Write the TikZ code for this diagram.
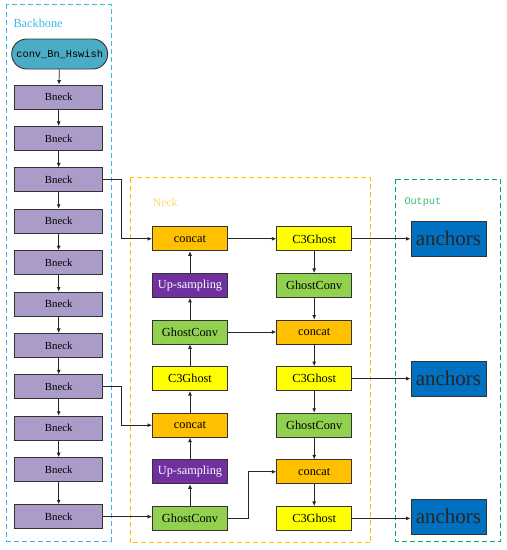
\documentclass[tikz,border=0pt]{standalone}
\usepackage{fontspec}
\setmainfont{Liberation Serif}
\setmonofont{Liberation Mono}
\usetikzlibrary{arrows.meta}

\definecolor{bbblue}{RGB}{60,185,235}
\definecolor{neckor}{RGB}{255,192,0}
\definecolor{necklab}{RGB}{255,214,110}
\definecolor{outgr}{RGB}{0,176,80}
\definecolor{convc}{RGB}{75,172,198}
\definecolor{bneckc}{RGB}{170,155,200}
\definecolor{catc}{RGB}{255,192,0}
\definecolor{c3c}{RGB}{255,255,0}
\definecolor{gcc}{RGB}{146,208,80}
\definecolor{upc}{RGB}{112,48,160}
\definecolor{anc}{RGB}{0,112,192}

\begin{document}
\begin{tikzpicture}[x=1pt,y=-1pt,
  box/.style={draw=black!80,line width=0.9pt,minimum width=75pt,minimum height=24pt,inner sep=0pt,font=\fontsize{12.3}{14}\selectfont},
  bneck/.style={box,fill=bneckc,minimum width=88pt,font=\fontsize{10.8}{12}\selectfont},
  cat/.style={box,fill=catc},
  cthree/.style={box,fill=c3c},
  gconv/.style={box,fill=gcc},
  upsm/.style={box,fill=upc,text=white},
  anch/.style={box,fill=anc,minimum height=35pt,text=black!85,font=\fontsize{21}{23}\selectfont},
  frame/.style={dash pattern=on 5pt off 3pt,line width=1pt},
  arr/.style={-{Latex[length=4.5pt,width=4pt]},line width=0.75pt,black!85}]
\useasboundingbox (0,0) rectangle (507,550);

% groups
\draw[frame,bbblue] (6.7,4) rectangle (111,541);
\draw[frame,neckor] (130,177.5) rectangle (370.7,542.7);
\draw[frame,outgr] (395.7,179.3) rectangle (500.7,541);
\node[anchor=west,inner sep=0pt,text=bbblue,font=\fontsize{12.3}{14}\selectfont] (bblab) at (13.3,23) {Backbone};
\node[anchor=west,inner sep=0pt,text=necklab,font=\fontsize{11.7}{13}\selectfont] (necklab) at (152.7,202.3) {Neck};
\node[anchor=west,inner sep=0pt,text=outgr!80,font=\ttfamily\fontsize{10.2}{12}\selectfont] (outlab) at (404.3,201.7) {Output};

% backbone
\node[draw=black!80,line width=0.9pt,fill=convc,rounded corners=15pt,minimum width=96pt,minimum height=30pt,inner sep=0pt,font=\ttfamily\fontsize{10.3}{12}\selectfont] (conv) at (59.7,54) {conv\_Bn\_Hswish};
\foreach \i in {1,...,10}
  \node[bneck] (b\i) at (58.7,{97+41.4*(\i-1)}) {Bneck};
\node[bneck] (b11) at (58.7,516.7) {Bneck};
\draw[arr] (conv) -- (b1);
\foreach \i [count=\j from 2] in {1,...,10}
  \draw[arr] (b\i) -- (b\j);

% neck, left column
\node[cat]    (catL1) at (190,238.8) {concat};
\node[upsm]   (upL1)  at (190,285.4) {Up-sampling};
\node[gconv]  (gcL1)  at (190,332.0) {GhostConv};
\node[cthree] (c3L1)  at (190,378.6) {C3Ghost};
\node[cat]    (catL2) at (190,425.2) {concat};
\node[upsm]   (upL2)  at (190,471.8) {Up-sampling};
\node[gconv]  (gcL2)  at (190,518.4) {GhostConv};
% neck, right column
\node[cthree] (c3R1)  at (314.2,238.8) {C3Ghost};
\node[gconv]  (gcR1)  at (314.2,285.4) {GhostConv};
\node[cat]    (catR1) at (314.2,332.0) {concat};
\node[cthree] (c3R2)  at (314.2,378.6) {C3Ghost};
\node[gconv]  (gcR2)  at (314.2,425.2) {GhostConv};
\node[cat]    (catR2) at (314.2,471.8) {concat};
\node[cthree] (c3R3)  at (314.2,518.4) {C3Ghost};

% output
\node[anch] (an1) at (448.5,238.8) {anchors};
\node[anch] (an2) at (448.5,378.6) {anchors};
\node[anch] (an3) at (448.5,516.7) {anchors};

% links
\draw[arr] (b3.east) -- ++(18.3,0) |- (catL1.west);
\draw[arr] (b8.east) -- ++(18.3,0) |- (catL2.west);
\draw[arr] (b11.east) -- (b11.east -| gcL2.west);
\draw[arr] (gcL2) -- (upL2);
\draw[arr] (upL2) -- (catL2);
\draw[arr] (catL2) -- (c3L1);
\draw[arr] (c3L1) -- (gcL1);
\draw[arr] (gcL1) -- (upL1);
\draw[arr] (upL1) -- (catL1);
\draw[arr] (catL1) -- (c3R1);
\draw[arr] (gcL1) -- (catR1);
\draw[arr] (gcL2.east) -- ++(20.3,0) |- (catR2.west);
\draw[arr] (c3R1) -- (gcR1);
\draw[arr] (gcR1) -- (catR1);
\draw[arr] (catR1) -- (c3R2);
\draw[arr] (c3R2) -- (gcR2);
\draw[arr] (gcR2) -- (catR2);
\draw[arr] (catR2) -- (c3R3);
\draw[arr] (c3R1) -- (an1);
\draw[arr] (c3R2) -- (an2);
\draw[arr] (c3R3.east) -- (c3R3.east -| an3.west);
\end{tikzpicture}
\end{document}
